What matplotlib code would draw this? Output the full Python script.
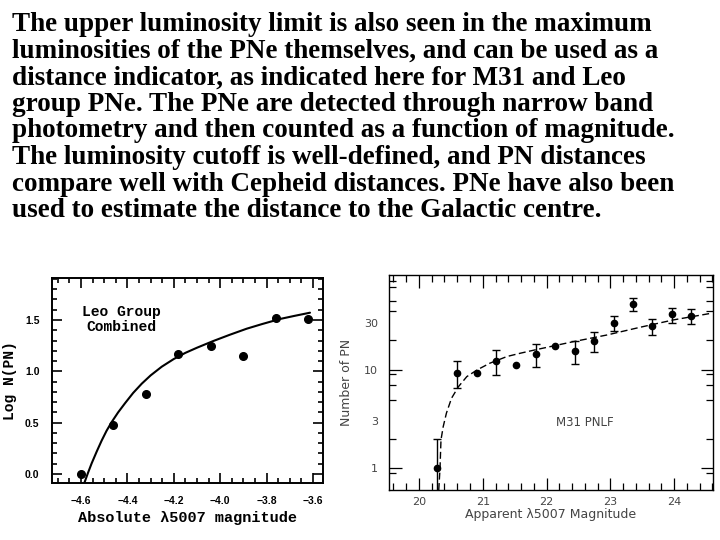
import numpy as np
import matplotlib
matplotlib.use("Agg")
import matplotlib.pyplot as plt
from matplotlib.ticker import FixedLocator, MultipleLocator, NullFormatter

# ---------------- data ----------------
slide_lines = [
    "The upper luminosity limit is also seen in the maximum",
    "luminosities of the PNe themselves, and can be used as a",
    "distance indicator, as indicated here for M31 and Leo",
    "group PNe. The PNe are detected through narrow band",
    "photometry and then counted as a function of magnitude.",
    "The luminosity cutoff is well-defined, and PN distances",
    "compare well with Cepheid distances. PNe have also been",
    "used to estimate the distance to the Galactic centre.",
]

leo_mag = [-4.60, -4.46, -4.32, -4.18, -4.04, -3.90, -3.76, -3.62]
leo_logn = [0.00, 0.48, 0.78, 1.17, 1.25, 1.15, 1.52, 1.51]
leo_fit_mag = [-4.586, -4.570, -4.554, -4.532, -4.511, -4.490, -4.468, -4.440,
               -4.410, -4.375, -4.338, -4.300, -4.252, -4.200, -4.150, -4.100,
               -4.030, -3.960, -3.886, -3.820, -3.742, -3.680, -3.613]
leo_fit_logn = [-0.09, 0.01, 0.104, 0.22, 0.325, 0.42, 0.505, 0.60,
                0.69, 0.79, 0.88, 0.96, 1.045, 1.12, 1.18, 1.23,
                1.295, 1.355, 1.415, 1.46, 1.51, 1.54, 1.571]
leo_xticks = [-4.6, -4.4, -4.2, -4.0, -3.8, -3.6]
leo_yticks = [0.0, 0.5, 1.0, 1.5]

m31_mag = [20.29, 20.60, 20.91, 21.21, 21.52, 21.83, 22.13, 22.44, 22.75,
           23.05, 23.35, 23.66, 23.96, 24.27]
m31_n = [1.0, 9.25, 9.25, 12.3, 11.2, 14.4, 17.5, 15.6, 19.9,
         30.3, 46.9, 28.2, 36.9, 35.4]
m31_hi = [2.0, 12.3, np.nan, 16.0, np.nan, 18.3, np.nan, 19.7, 24.5,
          35.4, 53.6, 32.8, 42.4, 41.4]
m31_lo = [0.5, 6.5, np.nan, 8.9, np.nan, 10.7, np.nan, 11.4, 15.4,
          24.9, 40.1, 22.7, 30.3, 29.4]
m31_fit_mag = [20.31, 20.33, 20.345, 20.38, 20.43, 20.51, 20.62, 20.75, 20.91,
               21.11, 21.38, 21.59, 21.82, 22.42, 22.95, 23.47, 23.99, 24.59]
m31_fit_n = [0.6, 1.0, 1.94, 2.65, 3.63, 5.15, 6.77, 8.55, 10.0,
             11.7, 13.7, 14.8, 16.0, 19.4, 22.7, 27.2, 32.3, 37.8]
m31_xticks = [20, 21, 22, 23, 24]
m31_yticks = [1, 3, 10, 30]
m31_yminor = [0.9, 2, 5, 7, 9, 20, 40, 50, 70, 80]

# ---------------- figure ----------------
W, H = 720, 540
fig = plt.figure(figsize=(7.2, 5.4), dpi=100)
fig.patch.set_facecolor("white")

for i, line in enumerate(slide_lines):
    base = 31 + i * 26.6
    fig.text(12 / W, 1 - base / H, line, va="baseline", ha="left",
             fontfamily="Liberation Serif", fontweight="bold", fontsize=19.5,
             color="black")

def fr(x0, y0, x1, y1):
    return [x0 / W, 1 - y1 / H, (x1 - x0) / W, (y1 - y0) / H]

# ---- left: Leo group ----
ax1 = fig.add_axes(fr(52, 278, 323, 483))
ax1.plot(leo_fit_mag, leo_fit_logn, color="black", lw=1.5,
         solid_capstyle="round", solid_joinstyle="round")
ax1.plot(leo_mag, leo_logn, "o", color="black", ms=5.5, clip_on=False)
ax1.set_xlim(-4.725, -3.557)
ax1.set_ylim(-0.088, 1.909)
ax1.xaxis.set_major_locator(FixedLocator(leo_xticks))
ax1.xaxis.set_minor_locator(MultipleLocator(0.05))
ax1.yaxis.set_major_locator(FixedLocator(leo_yticks))
ax1.yaxis.set_minor_locator(MultipleLocator(0.1))
ax1.set_xticklabels([f"{v:.1f}".replace("-", "\u2212") for v in leo_xticks])
ax1.set_yticklabels([f"{v:.1f}" for v in leo_yticks])
ax1.tick_params(which="both", direction="in", top=True, right=True, width=1.2)
ax1.tick_params(which="major", length=7, pad=9, labelsize=7.5)
ax1.tick_params(which="minor", length=3.5)
for lab in ax1.get_xticklabels() + ax1.get_yticklabels():
    lab.set_fontfamily("Liberation Sans")
    lab.set_fontweight("bold")
for s in ax1.spines.values():
    s.set_linewidth(1.4)
ax1.set_xlabel("Absolute \u03bb5007 magnitude", fontfamily="Liberation Mono",
               fontweight="bold", fontsize=11, labelpad=4)
ax1.set_ylabel("Log N(PN)", fontfamily="Liberation Mono", fontweight="bold",
               fontsize=10.5, labelpad=6)
ax1.text(-4.428, 1.58, "Leo Group", ha="center", va="center",
         fontfamily="Liberation Mono", fontweight="bold", fontsize=10.5)
ax1.text(-4.428, 1.43, "Combined", ha="center", va="center",
         fontfamily="Liberation Mono", fontweight="bold", fontsize=10.5)

# ---- right: M31 ----
ax2 = fig.add_axes(fr(389, 275, 713, 490))
ax2.set_yscale("log")
ax2.plot(m31_fit_mag, m31_fit_n, color="black", lw=1.0, dashes=(5, 2.5))
n = np.array(m31_n)
lo = np.array(m31_lo)
hi = np.array(m31_hi)
mask = ~np.isnan(hi)
ax2.errorbar(np.array(m31_mag)[mask], n[mask],
             yerr=[n[mask] - lo[mask], hi[mask] - n[mask]],
             fmt="none", ecolor="black", elinewidth=1.0, capsize=3, capthick=1.0)
ax2.plot(m31_mag, m31_n, "o", color="black", ms=4.5)
ax2.set_xlim(19.53, 24.61)
ax2.set_ylim(0.60, 92.5)
ax2.xaxis.set_major_locator(FixedLocator(m31_xticks))
ax2.xaxis.set_minor_locator(MultipleLocator(0.2))
ax2.yaxis.set_major_locator(FixedLocator(m31_yticks))
ax2.yaxis.set_minor_locator(FixedLocator(m31_yminor))
ax2.yaxis.set_minor_formatter(NullFormatter())
ax2.set_xticklabels([str(v) for v in m31_xticks])
ax2.set_yticklabels([str(v) for v in m31_yticks])
ax2.tick_params(which="both", direction="in", top=True, right=True, width=0.9,
                colors="black", labelcolor="#444444")
ax2.tick_params(which="major", length=9, pad=8, labelsize=8)
ax2.tick_params(which="minor", length=5)
ax2.tick_params(axis="x", which="major", pad=5)
for t, v in zip(ax2.yaxis.get_major_ticks(), m31_yticks):
    if v in (3, 30):
        t.tick1line.set_visible(False)
        t.tick2line.set_visible(False)
for s in ax2.spines.values():
    s.set_linewidth(1.0)
ax2.set_xlabel("Apparent \u03bb5007 Magnitude", fontsize=9, color="#444444",
               labelpad=1)
ax2.set_ylabel("Number of PN", fontsize=9, color="#444444", labelpad=8)
ax2.text(22.6, 2.9, "M31 PNLF", ha="center", va="center", fontsize=8.5,
         color="#444444")

fig.savefig("out.png", dpi=100, facecolor="white")
